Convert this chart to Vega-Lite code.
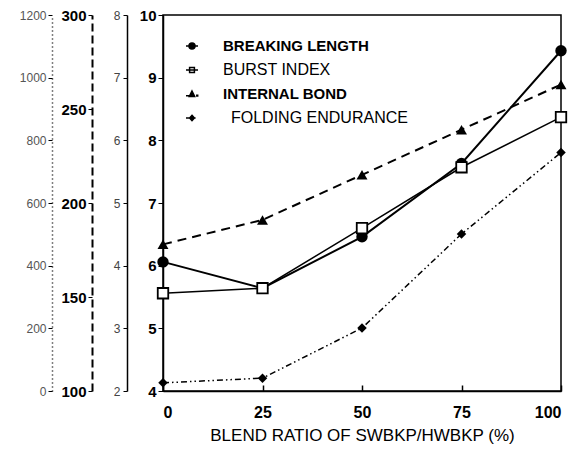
{
  "$schema": "https://vega.github.io/schema/vega-lite/v6.json",
  "width": 398,
  "height": 376,
  "autosize": {"type": "none"},
  "padding": {"left": 163, "top": 15, "right": 20, "bottom": 63},
  "background": "white",
  "config": {
    "font": "Liberation Sans",
    "view": {"stroke": "black", "strokeWidth": 1.5},
    "axis": {"domainColor": "black", "tickColor": "black", "labelColor": "black", "grid": false, "titleColor": "black"}
  },
  "data": {"values": [
    {"ratio": 0, "series": "BREAKING LENGTH", "value": 6.06},
    {"ratio": 25, "series": "BREAKING LENGTH", "value": 5.64},
    {"ratio": 50, "series": "BREAKING LENGTH", "value": 6.46},
    {"ratio": 75, "series": "BREAKING LENGTH", "value": 7.63},
    {"ratio": 100, "series": "BREAKING LENGTH", "value": 9.43},
    {"ratio": 0, "series": "BURST INDEX", "value": 3.56},
    {"ratio": 25, "series": "BURST INDEX", "value": 3.64},
    {"ratio": 50, "series": "BURST INDEX", "value": 4.6},
    {"ratio": 75, "series": "BURST INDEX", "value": 5.57},
    {"ratio": 100, "series": "BURST INDEX", "value": 6.37},
    {"ratio": 0, "series": "INTERNAL BOND", "value": 178},
    {"ratio": 25, "series": "INTERNAL BOND", "value": 191},
    {"ratio": 50, "series": "INTERNAL BOND", "value": 215},
    {"ratio": 75, "series": "INTERNAL BOND", "value": 239},
    {"ratio": 100, "series": "INTERNAL BOND", "value": 263},
    {"ratio": 0, "series": "FOLDING ENDURANCE", "value": 26},
    {"ratio": 25, "series": "FOLDING ENDURANCE", "value": 41},
    {"ratio": 50, "series": "FOLDING ENDURANCE", "value": 201},
    {"ratio": 75, "series": "FOLDING ENDURANCE", "value": 501},
    {"ratio": 100, "series": "FOLDING ENDURANCE", "value": 761}
  ]},
  "encoding": {
    "x": {
      "field": "ratio", "type": "quantitative",
      "scale": {"domain": [0, 100], "nice": false},
      "axis": {
        "values": [0, 25, 50, 75, 100],
        "title": "BLEND RATIO OF SWBKP/HWBKP (%)",
        "titleFontSize": 17, "titleFontWeight": "normal", "titlePadding": 7,
        "labelFontSize": 16, "labelFontWeight": "bold",
        "tickSize": -6, "labelPadding": 19, "domainWidth": 1.5, "tickWidth": 1.5
      }
    }
  },
  "layer": [
    {
      "transform": [{"filter": "datum.series === 'BREAKING LENGTH'"}],
      "encoding": {"y": {"field": "value", "type": "quantitative",
        "scale": {"domain": [4, 10], "nice": false, "zero": false},
        "axis": {"orient": "left", "offset": 0, "values": [4, 5, 6, 7, 8, 9, 10], "title": null,
          "labelFontSize": 15, "labelFontWeight": "bold", "tickSize": 5, "domainWidth": 1.5, "labelPadding": 2}}},
      "layer": [
        {"mark": {"type": "line", "strokeWidth": 2},
         "encoding": {
           "color": {"field": "series", "type": "nominal",
             "scale": {"domain": ["BREAKING LENGTH", "BURST INDEX", "INTERNAL BOND", "FOLDING ENDURANCE"], "range": ["black", "black", "black", "black"]},
             "legend": {"title": null, "orient": "none", "legendX": 21, "legendY": 23, "symbolSize": 144, "labelFontSize": 15, "labelColor": "black", "labelOffset": 23, "rowPadding": 8, "labelLimit": 400,
               "encode": {
                 "symbols": {"update": {
                   "shape": {"signal": "datum.label === 'BREAKING LENGTH' ? 'M-1,0H1M0.5,0A0.5,0.5,0,1,1,-0.5,0A0.5,0.5,0,1,1,0.5,0Z' : datum.label === 'BURST INDEX' ? 'M-1,0H1M-0.4,-0.4H0.4V0.4H-0.4Z' : datum.label === 'INTERNAL BOND' ? 'M-1,0.3H0.4M0,-0.5L0.45,0.4L-0.45,0.4ZM0.8,0.2H0.95V0.35H0.8Z' : 'M-1,0H0.6M0,-0.45L0.4,0L0,0.45L-0.4,0Z'"},
                   "fill": {"signal": "datum.label === 'BURST INDEX' ? 'white' : 'black'"},
                   "size": {"value": 144},
                   "strokeWidth": {"value": 1.5},
                   "opacity": {"value": 1}
                 }},
                 "labels": {"update": {
                   "fontWeight": {"signal": "datum.label === 'BREAKING LENGTH' || datum.label === 'INTERNAL BOND' ? 'bold' : 'normal'"},
                   "fontSize": {"signal": "datum.label === 'BREAKING LENGTH' || datum.label === 'INTERNAL BOND' ? 15 : 16"},
                   "dx": {"signal": "datum.label === 'FOLDING ENDURANCE' ? 8 : 0"}
                 }}
               }}}
         }},
        {"mark": {"type": "point", "shape": "circle", "filled": true, "color": "black", "size": 130, "opacity": 1}}
      ]
    },
    {
      "transform": [{"filter": "datum.series === 'BURST INDEX'"}],
      "encoding": {"y": {"field": "value", "type": "quantitative",
        "scale": {"domain": [2, 8], "nice": false, "zero": false},
        "axis": {"orient": "left", "offset": 36, "values": [2, 3, 4, 5, 6, 7, 8], "title": null,
          "labelFontSize": 12, "labelColor": "#444", "tickSize": 4, "domainWidth": 1.5, "labelPadding": 3}}},
      "layer": [
        {"mark": {"type": "line", "color": "black", "strokeWidth": 1.5}},
        {"mark": {"type": "point", "shape": "square", "filled": true, "fill": "white", "stroke": "black", "strokeWidth": 1.8, "size": 110, "opacity": 1}}
      ]
    },
    {
      "transform": [{"filter": "datum.series === 'INTERNAL BOND'"}],
      "encoding": {"y": {"field": "value", "type": "quantitative",
        "scale": {"domain": [100, 300], "nice": false, "zero": false},
        "axis": {"orient": "left", "offset": 71, "values": [100, 150, 200, 250, 300], "title": null,
          "labelFontSize": 15, "labelFontWeight": "bold", "tickSize": 4, "domainWidth": 2, "domainDash": [8, 4], "labelPadding": 2}}},
      "layer": [
        {"mark": {"type": "line", "color": "black", "strokeWidth": 2, "strokeDash": [9, 6]}},
        {"mark": {"type": "point", "shape": "triangle-up", "filled": true, "color": "black", "size": 120, "opacity": 1}}
      ]
    },
    {
      "transform": [{"filter": "datum.series === 'FOLDING ENDURANCE'"}],
      "encoding": {"y": {"field": "value", "type": "quantitative",
        "scale": {"domain": [0, 1200], "nice": false, "zero": false},
        "axis": {"orient": "left", "offset": 111, "values": [0, 200, 400, 600, 800, 1000, 1200], "format": "d", "title": null,
          "labelFontSize": 12, "labelColor": "#555", "tickSize": 4, "domainWidth": 1.5, "domainDash": [1, 3], "labelPadding": 2}}},
      "layer": [
        {"mark": {"type": "line", "color": "black", "strokeWidth": 1.5, "strokeDash": [6, 3, 1.5, 3, 1.5, 3]}},
        {"mark": {"type": "point", "shape": "diamond", "filled": true, "color": "black", "size": 90, "opacity": 1}}
      ]
    }
  ],
  "resolve": {"scale": {"y": "independent"}}
}
